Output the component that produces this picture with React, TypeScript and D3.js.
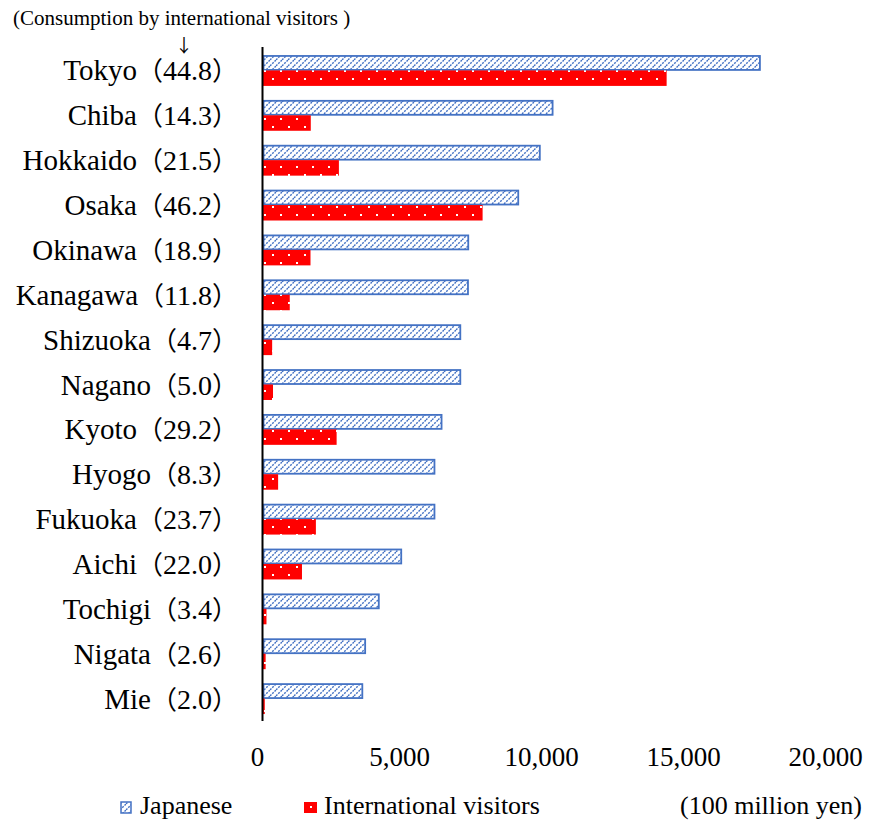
import React from 'react';
import * as d3 from 'd3';

const categories = ['Tokyo', 'Chiba', 'Hokkaido', 'Osaka', 'Okinawa', 'Kanagawa', 'Shizuoka', 'Nagano', 'Kyoto', 'Hyogo', 'Fukuoka', 'Aichi', 'Tochigi', 'Nigata', 'Mie'];
const visitorShare = ['44.8', '14.3', '21.5', '46.2', '18.9', '11.8', '4.7', '5.0', '29.2', '8.3', '23.7', '22.0', '3.4', '2.6', '2.0'];
const japanese = [17550, 10250, 9800, 9040, 7280, 7270, 7000, 7000, 6340, 6090, 6090, 4920, 4130, 3650, 3550];
const international = [14230, 1700, 2690, 7750, 1690, 960, 340, 370, 2610, 550, 1880, 1390, 140, 110, 80];
const ticks = [0, 5000, 10000, 15000, 20000];
const seriesNames = ['Japanese', 'International visitors'];

const W = 896;
const H = 821;
const SERIF = 'Liberation Serif';
const CJK = 'Noto Sans CJK JP';

export default function App() {
  const x = d3.scaleLinear().domain([0, 20000]).range([262.5, 830.5]);
  const y = d3.scaleBand<string>().domain(categories).range([48, 721]).paddingInner(0.31).paddingOuter(0.155);
  const sub = d3.scaleBand<string>().domain(['j', 'i']).range([0, y.bandwidth()]);
  const fmt = d3.format(',');
  const blue = '#4472C4';
  const red = '#FF0000';

  return (
    <svg width={W} height={H} style={{ position: 'absolute', left: 0, top: 0, background: '#fff' }}>
      <defs>
        <pattern id="hatch" patternUnits="userSpaceOnUse" width="6" height="6">
          <rect width="6" height="6" fill="#fff" />
          <path d="M0,6 L6,0 M-1.5,1.5 L1.5,-1.5 M4.5,7.5 L7.5,4.5" stroke={blue} strokeWidth="1.4" strokeDasharray="2,1.2" />
        </pattern>
        <pattern id="dots" patternUnits="userSpaceOnUse" width="16" height="16" x="263" y="0">
          <rect width="16" height="16" fill={red} />
          <rect x="1" y="6" width="2" height="2" fill="#fff" />
          <rect x="9" y="14" width="2" height="2" fill="#fff" />
        </pattern>
      </defs>

      <text x={13} y={25} fontFamily={SERIF} fontSize={21} fill="#000">(Consumption by international visitors )</text>
      <text x={184} y={52} fontFamily={CJK} fontSize={18} textAnchor="middle" fill="#000">↓</text>

      {categories.map((c, i) => {
        const y0 = y(c)!;
        return (
          <g key={c}>
            <rect
              x={x(0) + 1}
              y={y0 + sub('j')! + 1}
              width={Math.max(0, x(japanese[i]) - x(0) - 2)}
              height={sub.bandwidth() - 1.5}
              fill="url(#hatch)"
              stroke={blue}
              strokeWidth={1.8}
            />
            <rect
              x={x(0)}
              y={y0 + sub('i')!}
              width={Math.max(0, x(international[i]) - x(0))}
              height={sub.bandwidth()}
              fill="url(#dots)"
            />
            <text
              x={238}
              y={y0 + y.bandwidth() / 2 + 10}
              fontFamily={SERIF}
              fontSize={28}
              textAnchor="end"
              fill="#000"
            >
              <tspan fontSize={29}>{c}</tspan>
              <tspan fontFamily={CJK} fontSize={26}>（</tspan>
              <tspan>{visitorShare[i]}</tspan>
              <tspan fontFamily={CJK} fontSize={26}>）</tspan>
            </text>
          </g>
        );
      })}

      <line x1={x(0)} x2={x(0)} y1={47} y2={721} stroke="#000" strokeWidth={2} />

      {ticks.map((t) => (
        <text key={t} x={x(t) - 5} y={766} fontFamily={SERIF} fontSize={27} textAnchor="middle" fill="#000">
          {fmt(t)}
        </text>
      ))}

      <rect x={121} y={802} width={10} height={11} fill="url(#hatch)" stroke={blue} strokeWidth={1.5} />
      <text x={140} y={814} fontFamily={SERIF} fontSize={26} fill="#000">{seriesNames[0]}</text>
      <rect x={304} y={802} width={13} height={11} fill={red} />
      <rect x={310} y={806} width={2} height={2} fill="#fff" />
      <text x={324} y={814} fontFamily={SERIF} fontSize={26} fill="#000">{seriesNames[1]}</text>
      <text x={862} y={814} fontFamily={SERIF} fontSize={26} textAnchor="end" fill="#000">(100 million yen)</text>
    </svg>
  );
}
